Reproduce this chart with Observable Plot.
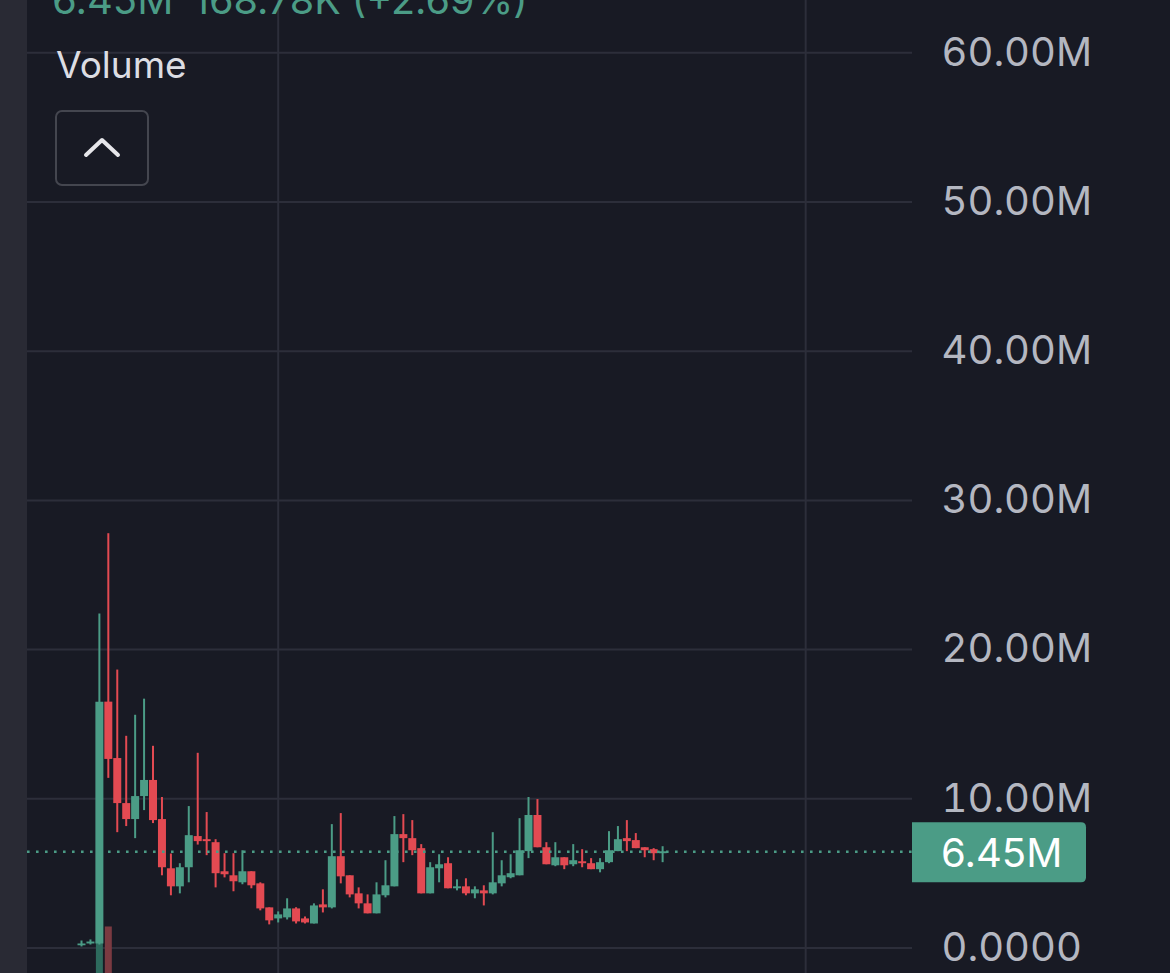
<!DOCTYPE html>
<html>
<head>
<meta charset="utf-8">
<script src="https://cdn.jsdelivr.net/npm/d3@7"></script>
<script src="https://cdn.jsdelivr.net/npm/@observablehq/plot@0.6"></script>
<style>
html,body{margin:0;padding:0;background:#181a24;overflow:hidden;}
#wrap{position:relative;width:1170px;height:973px;background:#181a24;overflow:hidden;font-family:Inter,"Noto Sans",sans-serif;}
#strip{position:absolute;left:0;top:0;width:27px;height:973px;background:#292a34;}
#chart{position:absolute;left:0;top:0;}
#overlay{position:absolute;left:0;top:0;pointer-events:none;}
</style>
</head>
<body>
<div id="wrap">
  <div id="strip"></div>
  <div id="chart"></div>
  <svg id="overlay" width="1170" height="973"></svg>
</div>
<script>
// ---- data (values in millions) ----
const opens  = [0.15,0.27,0.27,16.48,12.7,9.68,8.61,10.15,11.23,8.61,5.31,4.1,5.38,7.47,7.26,7.06,5.11,4.84,4.37,5.11,4.3,2.69,1.95,2.02,2.62,1.95,1.61,2.89,2.69,6.12,4.84,3.63,2.96,2.29,3.5,4.1,7.6,7.33,6.66,3.63,5.31,5.65,3.97,4.1,3.63,3.83,3.63,4.3,4.71,4.84,6.46,8.88,6.72,5.51,6.05,5.58,5.78,5.65,5.25,5.72,6.46,7.33,7.2,6.72,6.59,6.32];
const highs  = [0.47,0.54,22.39,27.77,18.63,14.19,15.6,16.68,13.52,10.09,6.3,5.65,9.48,13.05,9.08,7.26,6.32,6.32,6.52,5.11,4.37,2.69,2.42,3.3,2.7,2.08,2.96,3.9,8.27,9.01,4.84,4.03,3.56,4.37,5.85,8.81,8.94,8.54,6.93,5.72,6.25,6.05,4.57,4.64,4.1,4.17,7.73,5.85,6.25,8.67,10.09,9.95,7.06,7.06,6.05,6.93,6.59,5.99,5.99,7.8,8.14,8.54,7.67,6.72,6.66,6.79];
const lows   = [0.07,0.2,0.2,11.37,7.73,8.14,7.33,9.21,8.34,4.84,3.5,3.63,4.37,6.9,6.19,4.03,4.7,3.77,4.24,3.97,2.49,1.55,1.68,1.88,1.61,1.61,1.61,2.35,2.62,4.3,3.36,2.62,2.29,2.29,3.36,4.1,5.72,6.19,3.63,3.63,4.37,3.97,3.83,3.5,3.3,2.82,3.56,4.1,4.64,4.84,5.99,6.72,5.58,5.45,5.25,5.45,5.38,5.25,5.04,5.65,6.46,6.46,6.66,6.05,5.85,5.72];
const closes = [0.27,0.4,16.48,12.64,9.68,8.61,10.15,11.23,8.54,5.38,4.1,5.38,7.53,7.13,7.13,4.98,4.91,4.44,5.11,4.17,2.62,1.82,2.22,2.62,1.75,1.68,2.82,2.69,6.12,4.77,3.56,2.96,2.29,3.56,4.17,7.6,7.33,6.52,3.63,5.38,5.58,3.97,4.1,3.63,3.9,3.63,4.37,4.84,4.98,6.52,8.88,6.72,5.58,6.05,5.51,5.85,5.65,5.25,5.72,6.52,7.26,7.13,6.66,6.52,6.32,6.45];
// visible volume bars (candle number, volume in pane units)
const volumeCandles = [3, 4];
const volumeValues  = [0.47, 1.41];
const volumeUp      = [true, false];
const yTicks = [0, 10, 20, 30, 40, 50, 60];
const yTickLabels = ["0.0000","10.00M","20.00M","30.00M","40.00M","50.00M","60.00M"];
const timeGridCandles = [23, 82];
const lastPrice = 6.45;
const lastPriceLabel = "6.45M";
const headerValue = "6.45M";
const headerChange = "168.78K (+2.69%)";
const paneTitle = "Volume";

// ---- styles ----
const UP = "#4b9c86", DOWN = "#e34a52";
const UP_DARK = "#2d6a5d", DOWN_DARK = "#7a3a41";
const GRID = "#2c2e3a";

const candles = opens.map((o, k) => ({i: k + 1, o, h: highs[k], l: lows[k], c: closes[k]}));
const upC = candles.filter(d => d.c >= d.o);
const downC = candles.filter(d => d.c < d.o);
const vols = volumeCandles.map((i, k) => ({i, v: volumeValues[k], up: volumeUp[k]}));

const yMin = -1.709, yMax = 63.51;

const chart = Plot.plot({
  width: 1170,
  height: 973,
  marginLeft: 27,
  marginRight: 258,
  marginTop: 0,
  marginBottom: 0,
  style: {background: "transparent", fontFamily: "Inter, 'Noto Sans', sans-serif", overflow: "visible"},
  x: {domain: [-5.04, 93.95], axis: null},
  y: {domain: [yMin, yMax]},
  marks: [
    Plot.ruleY(yTicks, {stroke: GRID, strokeWidth: 2}),
    Plot.ruleX(timeGridCandles, {stroke: GRID, strokeWidth: 2}),
    Plot.ruleX(vols.filter(d => d.up), {x: "i", y1: yMin, y2: "v", stroke: UP_DARK, strokeWidth: 7}),
    Plot.ruleX(vols.filter(d => !d.up), {x: "i", y1: yMin, y2: "v", stroke: DOWN_DARK, strokeWidth: 7}),
    Plot.ruleX(upC, {x: "i", y1: "l", y2: "h", stroke: UP, strokeWidth: 2}),
    Plot.ruleX(downC, {x: "i", y1: "l", y2: "h", stroke: DOWN, strokeWidth: 2}),
    Plot.ruleX(upC, {x: "i", y1: "o", y2: "c", stroke: UP, strokeWidth: 8}),
    Plot.ruleX(downC, {x: "i", y1: "o", y2: "c", stroke: DOWN, strokeWidth: 8}),
    Plot.ruleY([lastPrice], {stroke: UP, strokeWidth: 2.6, strokeDasharray: "2.6,6.4"}),
    Plot.axisY({
      anchor: "right",
      ticks: yTicks,
      tickSize: 0,
      tickPadding: 29,
      fontSize: 40,
      fill: "#b4b7c1",
      tickFormat: d => yTickLabels[yTicks.indexOf(d)],
      label: null
    })
  ]
});
document.getElementById("chart").appendChild(chart);

// ---- overlay: header, pane title, collapse button, last price tag ----
const ys = chart.scale("y");
const yLast = ys.apply(lastPrice);
const ns = "http://www.w3.org/2000/svg";
const ov = document.getElementById("overlay");
function el(tag, attrs, text) {
  const e = document.createElementNS(ns, tag);
  for (const k in attrs) e.setAttribute(k, attrs[k]);
  if (text != null) e.textContent = text;
  ov.appendChild(e);
  return e;
}
const FONT = "Inter, 'Noto Sans', sans-serif";
el("text", {x: 52, y: 14, fill: UP, "font-size": 40, "font-family": FONT}, headerValue);
el("text", {x: 193, y: 14, fill: UP, "font-size": 39.5, "font-family": FONT}, headerChange);
el("text", {x: 56, y: 78, fill: "#dcdde3", "font-size": 37, "font-family": FONT}, paneTitle);
el("rect", {x: 56, y: 111, width: 92, height: 74, rx: 6, fill: "none", stroke: "#44464f", "stroke-width": 2});
el("polyline", {points: "86,155 102,140 118,155", fill: "none", stroke: "#e6e6ea", "stroke-width": 4, "stroke-linecap": "round", "stroke-linejoin": "round"});
const bx = 912, bw = 174, bh = 60, r = 5, by = yLast - bh / 2 + 1;
el("path", {d: `M${bx},${by} H${bx + bw - r} Q${bx + bw},${by} ${bx + bw},${by + r} V${by + bh - r} Q${bx + bw},${by + bh} ${bx + bw - r},${by + bh} H${bx} Z`, fill: UP});
el("text", {x: 941, y: yLast + 1, fill: "#ffffff", "font-size": 40, "font-family": FONT, "dominant-baseline": "central"}, lastPriceLabel);
</script>
</body>
</html>
